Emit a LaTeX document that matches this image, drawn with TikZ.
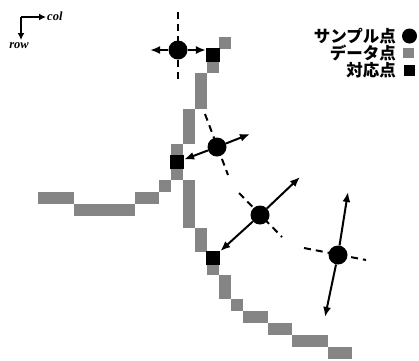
\documentclass[tikz,border=0pt]{standalone}
\usepackage{fontspec}
\newfontfamily\jp{Noto Sans CJK JP}
\newfontfamily\axfont{Liberation Serif}
\usetikzlibrary{arrows.meta}
\begin{document}
\begin{tikzpicture}[x=1pt,y=-1pt,
  cellgray/.style={fill=black!48},
  samp/.style={circle,fill=black,inner sep=0pt,minimum size=19pt},
  corr/.style={rectangle,fill=black,inner sep=0pt,minimum size=14pt},
  arr/.style={line width=2pt,-{Latex[length=10pt,width=8pt]}},
  dsh/.style={line width=2pt,dash pattern=on 7pt off 5pt},
  jtext/.style={anchor=east,inner sep=0pt,font=\jp\bfseries\fontsize{16.5}{18}\selectfont},
  axtext/.style={inner sep=0pt,font=\axfont\fontsize{12.5}{14}\selectfont\bfseries\itshape}]
\useasboundingbox (0,0) rectangle (419,360);
% axes
\coordinate (o) at (21,17);
\coordinate (cx) at (46,17);
\coordinate (cy) at (21,40);
\draw[line width=2.2pt,-{Latex[length=7pt,width=7pt]}] (o) -- (cx);
\draw[line width=2.2pt,-{Latex[length=7pt,width=7pt]}] (o) -- (cy);
\node[axtext,anchor=west] (col) at (47,16) {col};
\node[axtext] (row) at (19,46) {row};
% data points (gray cells)
\foreach \a/\b/\c/\d in {15/16/0/1,14/15/2/3,13/14/3/6,12/13/6/9,11/12/9/10,11/12/11/12,
  10/11/12/13,8/10/13/14,3/8/14/15,0/3/13/14,12/13/12/16,13/14/16/18,14/15/19/20,
  15/16/20/22,16/17/22/23,17/19/23/24,19/21/24/25,21/24/25/26,24/26/26/27}
  \fill[cellgray] ({38+12.08*\a},{37+11.92*\c}) rectangle ({38+12.08*\b},{37+11.92*\d});
% corresponding points
\node[corr] (q1) at ({38+12.08*14.5},{37+11.92*1.5}) {};
\node[corr] (q2) at ({38+12.08*11.5},{37+11.92*10.5}) {};
\node[corr] (q3) at ({38+12.08*14.5},{37+11.92*18.5}) {};
% sample points
\node[samp] (s1) at (178,50) {};
\node[samp] (s2) at (217,147) {};
\node[samp] (s3) at (260,215) {};
\node[samp] (s4) at (338,255) {};
% dashed lines
\coordinate (d1a) at (178,12); \coordinate (d1b) at (178,83);
\coordinate (d2a) at (205,114); \coordinate (d2b) at (228,175);
\coordinate (d3a) at (239,193); \coordinate (d3b) at (282,237);
\coordinate (d4a) at (304,248); \coordinate (d4b) at (366,260);
\draw[dsh] (d1a) -- (d1b);
\draw[dsh] (d2a) -- (d2b);
\draw[dsh] (d3a) -- (d3b);
\draw[dsh] (d4a) -- (d4b);
% arrows
\coordinate (t1) at (150,50);
\coordinate (t2) at (250,134);
\coordinate (t3) at (300,177);
\coordinate (t4a) at (348,192);
\coordinate (t4b) at (325,317);
\draw[arr] (s1) -- (t1);
\draw[arr] (s1) -- (q1.west |- s1);
\draw[arr] (s2) -- (t2);
\draw[arr] (s2) -- (q2);
\draw[arr] (s3) -- (t3);
\draw[arr] (s3) -- (q3);
\draw[arr] (s4) -- (t4a);
\draw[arr] (s4) -- (t4b);
% legend
\node[jtext] (l1) at (396,36) {サンプル点};
\node[jtext] (l2) at (396,53) {データ点};
\node[jtext] (l3) at (396,70) {対応点};
\node[circle,fill=black,inner sep=0pt,minimum size=15pt] (k1) at (409.5,36) {};
\node[rectangle,fill=black!48,inner sep=0pt,minimum size=10.5pt] (k2) at (408.5,53) {};
\node[rectangle,fill=black,inner sep=0pt,minimum size=11pt] (k3) at (409,70.5) {};
\end{tikzpicture}
\end{document}
